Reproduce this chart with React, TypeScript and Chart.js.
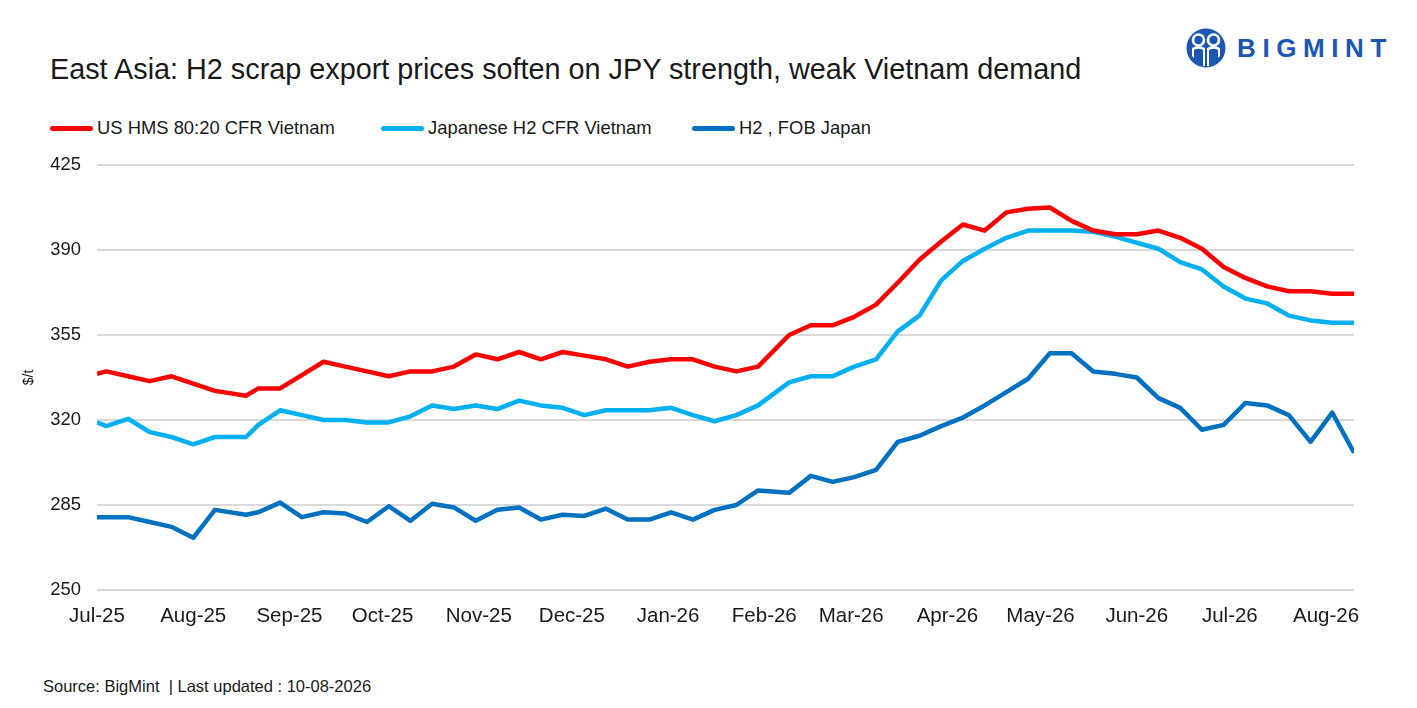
import React, { useEffect, useRef } from "react";
import { Chart, registerables } from "chart.js";

Chart.register(...registerables);

const AXIS_START = "2025-07-01";
const AXIS_END = "2026-08-10";

const dates = [
  "2025-07-01", "2025-07-04", "2025-07-11", "2025-07-18", "2025-07-25", "2025-08-01", "2025-08-08",
  "2025-08-18", "2025-08-22", "2025-08-29", "2025-09-05", "2025-09-12", "2025-09-19", "2025-09-26",
  "2025-10-03", "2025-10-10", "2025-10-17", "2025-10-24", "2025-10-31", "2025-11-07", "2025-11-14",
  "2025-11-21", "2025-11-28", "2025-12-05", "2025-12-12", "2025-12-19", "2025-12-26", "2026-01-02",
  "2026-01-09", "2026-01-16", "2026-01-23", "2026-01-30", "2026-02-09", "2026-02-16", "2026-02-23",
  "2026-03-02", "2026-03-09", "2026-03-16", "2026-03-23", "2026-03-30", "2026-04-06", "2026-04-13",
  "2026-04-20", "2026-04-27", "2026-05-04", "2026-05-11", "2026-05-18", "2026-05-25", "2026-06-01",
  "2026-06-08", "2026-06-15", "2026-06-22", "2026-06-29", "2026-07-06", "2026-07-13", "2026-07-20",
  "2026-07-27", "2026-08-03", "2026-08-10",
];

const usHms = [
  339, 340, 338, 336, 338, 335, 332, 330, 333, 333, 338.5, 344, 342, 340, 338, 340, 340, 342, 347, 345,
  348, 345, 348, 346.5, 345, 342, 344, 345, 345, 342, 340, 342, 355, 359, 359, 362.5, 367.5, 376.5, 386,
  393.5, 400.5, 398, 405.5, 407, 407.5, 402, 398, 396.5, 396.5, 398, 395, 390.5, 383, 378.5, 375, 373,
  373, 372, 372,
];

const japH2 = [
  319, 317.5, 320.5, 315, 313, 310, 313, 313, 318, 324, 322, 320, 320, 319, 319, 321.5, 326, 324.5, 326,
  324.5, 328, 326, 325, 322, 324, 324, 324, 325, 322, 319.5, 322, 326, 335.5, 338, 338, 342, 345, 356.5,
  363, 377.5, 385.5, 390.5, 395, 398, 398, 398, 397.5, 395.5, 393, 390.5, 385, 382, 375, 370, 368, 363,
  361, 360, 360,
];

const h2Fob = [
  280, 280, 280, 278, 276, 271.5, 283, 281, 282, 286, 280, 282, 281.5, 278, 284.5, 278.5, 285.5, 284,
  278.5, 283, 284, 279, 281, 280.5, 283.5, 279, 279, 282, 279, 283, 285, 291, 290, 297, 294.5, 296.5,
  299.5, 311, 313.5, 317.5, 321, 326, 331.5, 337, 347.5, 347.5, 340, 339, 337.5, 329, 325, 316, 318, 327,
  326, 322, 311, 323, 306.5,
];

const monthStarts = [
  "2025-07-01", "2025-08-01", "2025-09-01", "2025-10-01", "2025-11-01", "2025-12-01", "2026-01-01",
  "2026-02-01", "2026-03-01", "2026-04-01", "2026-05-01", "2026-06-01", "2026-07-01", "2026-08-01",
];
const monthLabels = [
  "Jul-25", "Aug-25", "Sep-25", "Oct-25", "Nov-25", "Dec-25", "Jan-26",
  "Feb-26", "Mar-26", "Apr-26", "May-26", "Jun-26", "Jul-26", "Aug-26",
];

const yTicks = [250, 285, 320, 355, 390, 425];

const seriesNames = ["US HMS 80:20 CFR Vietnam", "Japanese H2 CFR Vietnam", "H2 , FOB Japan"];
const seriesColors = ["#FF0000", "#00B0F0", "#0070C0"];
const seriesValues = [usHms, japH2, h2Fob];

const TITLE = "East Asia: H2 scrap export prices soften on JPY strength, weak Vietnam demand";
const SOURCE = "Source: BigMint  | Last updated : 10-08-2026";

const FONT = "'Liberation Sans', Arial, sans-serif";
const TEXT = "#1a1a1a";

function dayOffset(s: string): number {
  const [y, m, d] = s.split("-").map(Number);
  const [y0, m0, d0] = AXIS_START.split("-").map(Number);
  return Math.round((Date.UTC(y, m - 1, d) - Date.UTC(y0, m0 - 1, d0)) / 86400000);
}

const W = 1417;
const H = 650;
const PLOT_BOTTOM = 590;
const PLOT_LEFT = 97;

function LineChart() {
  const ref = useRef<HTMLCanvasElement | null>(null);
  useEffect(() => {
    if (!ref.current) return;
    Chart.defaults.font.family = FONT;
    const chart = new Chart(ref.current, {
      type: "line",
      data: {
        datasets: seriesValues.map((vals, i) => ({
          label: seriesNames[i],
          data: dates.map((d, j) => ({ x: dayOffset(d), y: vals[j] })),
          borderColor: seriesColors[i],
          backgroundColor: seriesColors[i],
          borderWidth: 4.5,
          pointRadius: 0,
          tension: 0,
          borderJoinStyle: "round",
          fill: false,
        })),
      },
      options: {
        animation: false,
        responsive: false,
        events: [],
        layout: { padding: { top: 165, right: 63, left: 0, bottom: 0 } },
        plugins: {
          legend: { display: false },
          tooltip: { enabled: false },
        },
        scales: {
          x: {
            type: "linear",
            min: 0,
            max: dayOffset(AXIS_END),
            grid: { display: false },
            border: { display: false },
            afterBuildTicks: (scale: any) => {
              scale.ticks = monthStarts.map((s) => ({ value: dayOffset(s) }));
            },
            afterFit: (scale: any) => {
              scale.height = H - PLOT_BOTTOM;
            },
            ticks: {
              autoSkip: false,
              maxRotation: 0,
              minRotation: 0,
              padding: 6,
              color: TEXT,
              font: { family: FONT, size: 20.5 },
              callback: (_v: any, index: number) => monthLabels[index] ?? "",
            },
          },
          y: {
            min: 250,
            max: 425,
            afterBuildTicks: (scale: any) => {
              scale.ticks = yTicks.map((v) => ({ value: v }));
            },
            afterFit: (scale: any) => {
              scale.width = PLOT_LEFT;
            },
            grid: { color: "#d9d9d9", lineWidth: 2, drawTicks: false },
            border: { display: false },
            ticks: {
              padding: 16,
              color: TEXT,
              font: { family: FONT, size: 18.4 },
            },
            title: {
              display: true,
              text: "$/t",
              color: TEXT,
              font: { family: FONT, size: 14 },
              padding: { top: 21, bottom: 0 },
            },
          },
        },
      },
    } as any);
    return () => chart.destroy();
  }, []);
  return (
    <canvas
      ref={ref}
      width={W}
      height={H}
      style={{ position: "absolute", left: 0, top: 0, width: W, height: H }}
    />
  );
}

function Logo() {
  const blue = "#1b57b2";
  return (
    <div style={{ position: "absolute", left: 1186, top: 27, height: 42, display: "flex", alignItems: "center" }}>
      <svg width={40} height={40} viewBox="0 0 40 40">
        <circle cx={20} cy={20} r={19.5} fill={blue} />
        <circle cx={12.5} cy={12} r={6.8} fill="#fff" />
        <circle cx={27.5} cy={12} r={6.8} fill="#fff" />
        <circle cx={12.5} cy={12} r={4.2} fill={blue} />
        <circle cx={27.5} cy={12} r={4.2} fill={blue} />
        <path d="M6 20 Q12.5 16 19 20 L19 38 L17 38 L17 22 Q12.5 19.5 8 22 L8 30 L6 28 Z" fill="#fff" />
        <path d="M34 20 Q27.5 16 21 20 L21 38 L23 38 L23 22 Q27.5 19.5 32 22 L32 30 L34 28 Z" fill="#fff" />
      </svg>
      <span
        style={{
          marginLeft: 11,
          fontFamily: FONT,
          fontWeight: 700,
          fontSize: 26,
          letterSpacing: 6.6,
          color: blue,
          lineHeight: 1,
        }}
      >
        BIGMINT
      </span>
    </div>
  );
}

function Legend() {
  const lefts = [50, 381, 692];
  return (
    <>
      {seriesNames.map((name, i) => (
        <div
          key={name}
          style={{
            position: "absolute",
            left: lefts[i],
            top: 116,
            height: 24,
            display: "flex",
            alignItems: "center",
            whiteSpace: "nowrap",
          }}
        >
          <div style={{ width: 43, height: 5, borderRadius: 2.5, background: seriesColors[i] }} />
          <span style={{ marginLeft: 4, fontFamily: FONT, fontSize: 18.4, color: TEXT, lineHeight: 1 }}>{name}</span>
        </div>
      ))}
    </>
  );
}

export default function App() {
  return (
    <div
      style={{
        position: "absolute",
        left: 0,
        top: 0,
        width: W,
        height: 708,
        background: "#fff",
        overflow: "hidden",
      }}
    >
      <div
        style={{
          position: "absolute",
          left: 50,
          top: 55,
          fontFamily: FONT,
          fontSize: 28.8,
          lineHeight: 1,
          color: TEXT,
          whiteSpace: "nowrap",
        }}
      >
        {TITLE}
      </div>
      <Logo />
      <Legend />
      <LineChart />
      <div
        style={{
          position: "absolute",
          left: 43,
          top: 678,
          fontFamily: FONT,
          fontSize: 16.5,
          lineHeight: 1,
          color: TEXT,
          whiteSpace: "pre",
        }}
      >
        {SOURCE}
      </div>
    </div>
  );
}
